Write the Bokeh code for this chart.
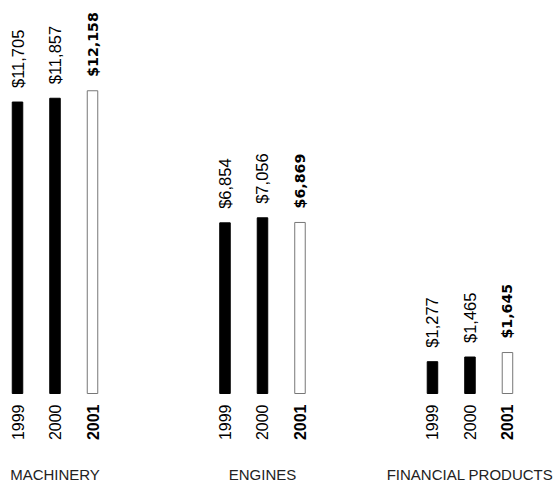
import math
from bokeh.plotting import figure
from bokeh.models import ColumnDataSource, Range1d
from bokeh.core.properties import value
from bokeh.embed import file_html
from bokeh.resources import INLINE

# Segment sales, millions of dollars
categories = ["MACHINERY", "ENGINES", "FINANCIAL PRODUCTS"]
years = ["1999", "2000", "2001"]
machinery = [11705, 11857, 12158]
engines = [6854, 7056, 6869]
financial = [1277, 1465, 1645]
series = [machinery, engines, financial]
current_year = "2001"

GROUP_STEP = 5.533   # spacing between segment groups, in bar slots
BAR_W = 0.28

xs, tops, yrs, labels, fills, lines = [], [], [], [], [], []
for g, vals in enumerate(series):
    for k, (yr, v) in enumerate(zip(years, vals)):
        xs.append(g * GROUP_STEP + k)
        tops.append(v)
        yrs.append(yr)
        labels.append(f"${v:,}")
        cur = yr == current_year
        fills.append("white" if cur else "black")
        lines.append("#777777" if cur else "black")

src = ColumnDataSource(dict(x=xs, top=tops, year=yrs, label=labels, fill=fills, line=lines))
cur_idx = [i for i, y in enumerate(yrs) if y == current_year]
old_idx = [i for i, y in enumerate(yrs) if y != current_year]
def subset(idx):
    return ColumnDataSource({k: [v[i] for i in idx] for k, v in src.data.items()})
src_old, src_cur = subset(old_idx), subset(cur_idx)

UNITS_PER_PX = 40.16
p = figure(width=554, height=483, output_backend="svg", toolbar_location=None,
           x_range=Range1d(-17 / 37.5, -17 / 37.5 + 554 / 37.5),
           y_range=Range1d(-90 * UNITS_PER_PX, 393 * UNITS_PER_PX),
           min_border=0, outline_line_color=None)
p.axis.visible = False
p.grid.visible = False
p.background_fill_color = "white"
p.border_fill_color = "white"

p.vbar(x="x", top="top", bottom=0, width=BAR_W, source=src,
       fill_color="fill", line_color="line", line_width=1)

# value labels above bars
p.text(x="x", y="top", text="label", source=src_old, angle=math.pi / 2,
       text_align="left", text_baseline="middle", y_offset=-14,
       text_font=value("Liberation Sans"), text_font_size=value("16.5px"), text_color="black")
p.text(x="x", y="top", text="label", source=src_cur, angle=math.pi / 2,
       text_align="left", text_baseline="middle", y_offset=-14,
       text_font=value("DejaVu Sans"), text_font_style="bold",
       text_font_size=value("14.2px"), text_color="black")

# year labels below bars
zero_old = ColumnDataSource(dict(x=src_old.data["x"], y=[0] * len(old_idx), t=src_old.data["year"]))
zero_cur = ColumnDataSource(dict(x=src_cur.data["x"], y=[0] * len(cur_idx), t=src_cur.data["year"]))
p.text(x="x", y="y", text="t", source=zero_old, angle=math.pi / 2,
       text_align="right", text_baseline="middle", y_offset=11,
       text_font=value("Liberation Sans"), text_font_size=value("16px"), text_color="black")
p.text(x="x", y="y", text="t", source=zero_cur, angle=math.pi / 2,
       text_align="right", text_baseline="middle", y_offset=11,
       text_font=value("Liberation Sans"), text_font_style="bold",
       text_font_size=value("16px"), text_color="black")

# segment names
cat_src = ColumnDataSource(dict(x=[g * GROUP_STEP + 1 for g in range(len(categories))],
                                y=[0] * len(categories), t=categories))
p.text(x="x", y="y", text="t", source=cat_src, text_align="center",
       text_baseline="alphabetic", y_offset=81,
       text_font=value("Liberation Sans"), text_font_size=value("15px"), text_color="#222222")

open("out.html", "w").write(file_html(p, INLINE))
